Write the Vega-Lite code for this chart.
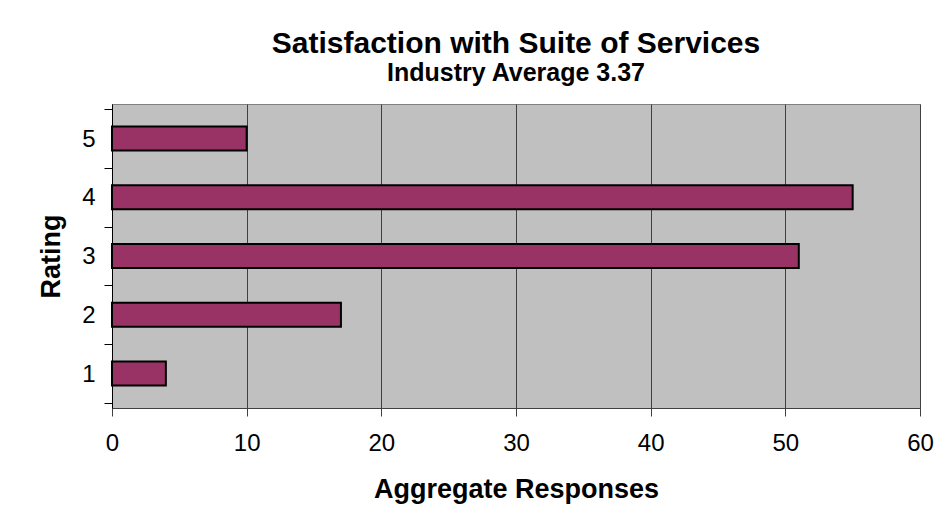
{
  "$schema": "https://vega.github.io/schema/vega-lite/v6.json",
  "width": 808,
  "height": 304,
  "autosize": "none",
  "padding": {"left": 112, "top": 104, "right": 26, "bottom": 117},
  "background": "white",
  "title": {
    "text": "Satisfaction with Suite of Services",
    "subtitle": "Industry Average 3.37",
    "font": "Liberation Sans",
    "fontSize": 30,
    "fontWeight": "bold",
    "color": "black",
    "subtitleFont": "Liberation Sans",
    "subtitleFontSize": 25,
    "subtitleFontWeight": "bold",
    "subtitleColor": "black",
    "anchor": "middle",
    "offset": 18,
    "subtitlePadding": 2
  },
  "data": {
    "values": [
      {"rating": 1, "responses": 4},
      {"rating": 2, "responses": 17},
      {"rating": 3, "responses": 51},
      {"rating": 4, "responses": 55},
      {"rating": 5, "responses": 10}
    ]
  },
  "mark": {"type": "bar", "orient": "horizontal", "size": 24, "color": "#993366", "stroke": "black", "strokeWidth": 2},
  "encoding": {
    "y": {
      "field": "rating",
      "type": "quantitative",
      "scale": {"domain": [0.5, 5.5], "nice": false, "zero": false},
      "axis": {
        "title": "Rating",
        "titleFont": "Liberation Sans",
        "titleFontSize": 27,
        "titleFontWeight": "bold",
        "titleColor": "black",
        "titlePadding": 16,
        "values": [0.5, 1.5, 2.5, 3.5, 4.5, 5.5],
        "labelExpr": "datum.value > 1 ? format(datum.value - 0.5, 'd') : ''",
        "labelOffset": 30,
        "labelFont": "Liberation Sans",
        "labelFontSize": 24,
        "labelColor": "black",
        "labelPadding": 9,
        "labelOverlap": false,
        "labelBound": false,
        "labelFlush": false,
        "tickSize": 8,
        "tickColor": "black",
        "domainColor": "black",
        "grid": false
      }
    },
    "x": {
      "field": "responses",
      "type": "quantitative",
      "scale": {"domain": [0, 60], "nice": false},
      "axis": {
        "title": "Aggregate Responses",
        "titleFont": "Liberation Sans",
        "titleFontSize": 27,
        "titleFontWeight": "bold",
        "titleColor": "black",
        "titlePadding": 21,
        "values": [0, 10, 20, 30, 40, 50, 60],
        "labelFont": "Liberation Sans",
        "labelFontSize": 24,
        "labelColor": "black",
        "labelPadding": 15,
        "labelFlush": false,
        "tickSize": 8,
        "tickColor": "#404040",
        "domainColor": "#404040",
        "grid": true,
        "gridColor": "#404040",
        "gridOpacity": 1
      }
    }
  },
  "config": {"view": {"fill": "#C0C0C0", "stroke": "#808080"}}
}
